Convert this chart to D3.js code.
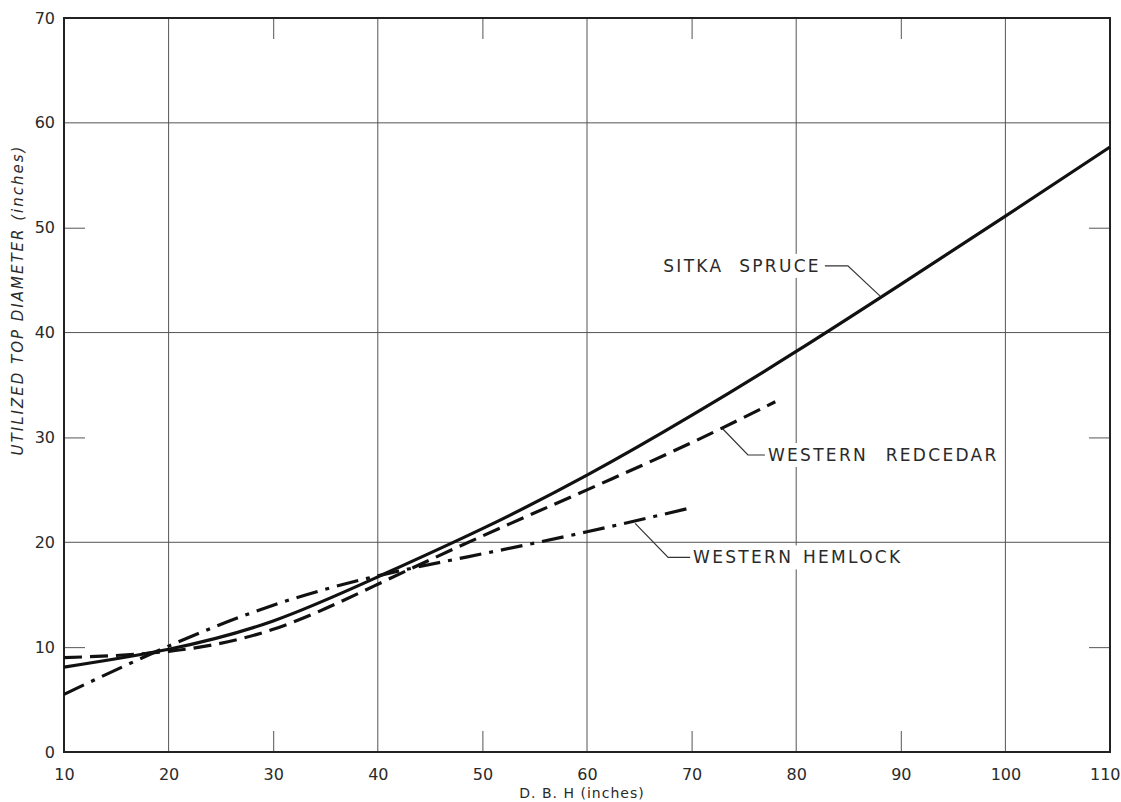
<!DOCTYPE html>
<html>
<head>
<meta charset="utf-8">
<script src="https://cdn.jsdelivr.net/npm/d3@7"></script>
<style>
  body { margin: 0; background: #fff; }
  text { font-family: "DejaVu Sans", sans-serif; fill: #2a2a2a; }
  .tick-label { font-size: 16px; }
  .curve-label { font-size: 17px; letter-spacing: 2.3px; }
</style>
</head>
<body>
<div id="chart"></div>
<script>
// values (D.B.H inches -> utilized top diameter inches)
const sitkaX = [10, 20, 30, 40, 50, 60, 70, 80, 90, 100, 110];
const sitkaY = [8.1, 9.8, 12.5, 16.7, 21.3, 26.4, 32.1, 38.2, 44.6, 51.1, 57.7];

const redcedarX = [10, 20, 30, 40, 50, 60, 70, 78];
const redcedarY = [9.0, 9.6, 11.7, 16.0, 20.6, 25.0, 29.5, 33.4];

const hemlockX = [10, 20, 30, 40, 50, 60, 70];
const hemlockY = [5.5, 10.1, 14.0, 16.8, 18.9, 21.0, 23.3];

const xTicks = [10, 20, 30, 40, 50, 60, 70, 80, 90, 100, 110];
const yTicks = [0, 10, 20, 30, 40, 50, 60, 70];
const xGrid = [20, 40, 60, 80, 100];
const yGrid = [20, 40, 60];

const labelNames = ['SITKA SPRUCE', 'WESTERN REDCEDAR', 'WESTERN HEMLOCK'];
const labelAnchorX = [88.0, 72.9, 64.6];
const labelAnchorY = [43.5, 30.9, 21.8];

const width = 1121, height = 802;
const margin = {top: 18, right: 11, bottom: 50, left: 64};
const w = width - margin.left - margin.right;
const h = height - margin.top - margin.bottom;

const svg = d3.select('#chart').append('svg')
    .attr('width', width)
    .attr('height', height);

const chart = svg.append('g')
    .attr('transform', `translate(${margin.left},${margin.top})`);

const x = d3.scaleLinear().domain([10, 110]).range([0, w]);
const y = d3.scaleLinear().domain([0, 70]).range([h, 0]);

// full grid lines every 20
chart.selectAll('.vgrid').data(xGrid).join('line')
    .attr('x1', d => x(d)).attr('x2', d => x(d))
    .attr('y1', 0).attr('y2', h)
    .attr('stroke', '#555').attr('stroke-width', 1);
chart.selectAll('.hgrid').data(yGrid).join('line')
    .attr('y1', d => y(d)).attr('y2', d => y(d))
    .attr('x1', 0).attr('x2', w)
    .attr('stroke', '#555').attr('stroke-width', 1);

// short ticks on all four sides for the odd tens
const tickLen = 21;
const xShort = xTicks.filter(d => !xGrid.includes(d) && d > 10 && d < 110);
const yShort = yTicks.filter(d => !yGrid.includes(d) && d > 0 && d < 70);

chart.append('g').call(d3.axisBottom(x).tickValues(xShort).tickSize(-tickLen).tickFormat(''))
    .attr('transform', `translate(0,${h})`);
chart.append('g').call(d3.axisTop(x).tickValues(xShort).tickSize(-tickLen).tickFormat(''));
chart.append('g').call(d3.axisLeft(y).tickValues(yShort).tickSize(-tickLen).tickFormat(''));
chart.append('g').call(d3.axisRight(y).tickValues(yShort).tickSize(-tickLen).tickFormat(''))
    .attr('transform', `translate(${w},0)`);
chart.selectAll('.domain').remove();
chart.selectAll('.tick line').attr('stroke', '#555');

// frame
chart.append('rect')
    .attr('width', w).attr('height', h)
    .attr('fill', 'none').attr('stroke', '#222').attr('stroke-width', 2);

// tick labels
const xAxisG = chart.append('g')
    .attr('transform', `translate(0,${h})`)
    .call(d3.axisBottom(x).tickValues(xTicks).tickSize(0).tickPadding(17).tickFormat(d3.format('d')));
const yAxisG = chart.append('g')
    .call(d3.axisLeft(y).tickValues(yTicks).tickSize(0).tickPadding(9).tickFormat(d3.format('d')));
[xAxisG, yAxisG].forEach(g => {
    g.select('.domain').remove();
    g.selectAll('text').attr('class', 'tick-label').attr('font-size', null).attr('font-family', null);
});
// last x label sits against the right edge
xAxisG.selectAll('.tick').filter(d => d === 110).select('text')
    .attr('text-anchor', 'end').attr('x', 10);

// axis titles
svg.append('text')
    .attr('x', margin.left + w / 2 - 5)
    .attr('y', 798)
    .attr('text-anchor', 'middle')
    .style('font-size', '14px')
    .style('letter-spacing', '1px')
    .text('D. B. H (inches)');

svg.append('text')
    .attr('transform', `translate(23,${margin.top + 282}) rotate(-90)`)
    .attr('text-anchor', 'middle')
    .style('font-size', '15px')
    .style('font-style', 'italic')
    .style('letter-spacing', '2px')
    .text('UTILIZED TOP DIAMETER (inches)');

// label backgrounds + leaders + text
const leaderOffsets = [
    {ex: -32, ey: -30, hx: -55, anchor: 'end', tx: -59, ws: 8},
    {ex: 26, ey: 27, hx: 43, anchor: 'start', tx: 46, ws: 10},
    {ex: 33, ey: 34, hx: 55, anchor: 'start', tx: 58, ws: 2}
];

const labels = chart.append('g');
labelNames.forEach((name, i) => {
    const ax = x(labelAnchorX[i]), ay = y(labelAnchorY[i]);
    const o = leaderOffsets[i];
    const t = labels.append('text')
        .attr('class', 'curve-label')
        .attr('x', ax + o.tx)
        .attr('y', ay + o.ey + 6)
        .attr('text-anchor', o.anchor)
        .style('word-spacing', o.ws + 'px')
        .text(name);
    const bb = t.node().getBBox();
    labels.insert('rect', 'text')
        .attr('x', bb.x - 3).attr('y', bb.y - 2)
        .attr('width', bb.width + 6).attr('height', bb.height + 4)
        .attr('fill', '#fff');
    labels.append('polyline')
        .attr('points', [[ax, ay], [ax + o.ex, ay + o.ey], [ax + o.hx, ay + o.ey]].map(p => p.join(',')).join(' '))
        .attr('fill', 'none')
        .attr('stroke', '#333')
        .attr('stroke-width', 1.2);
});

// curves
const line = d3.line()
    .x(d => x(d[0]))
    .y(d => y(d[1]))
    .curve(d3.curveNatural);

const series = [
    {xs: sitkaX, ys: sitkaY, dash: null},
    {xs: redcedarX, ys: redcedarY, dash: '18,8'},
    {xs: hemlockX, ys: hemlockY, dash: '22,8,4,8'}
];

chart.selectAll('.curve').data(series).join('path')
    .attr('class', 'curve')
    .attr('d', s => line(d3.zip(s.xs, s.ys)))
    .attr('fill', 'none')
    .attr('stroke', '#111')
    .attr('stroke-width', 3.2)
    .attr('stroke-dasharray', s => s.dash);
</script>
</body>
</html>
